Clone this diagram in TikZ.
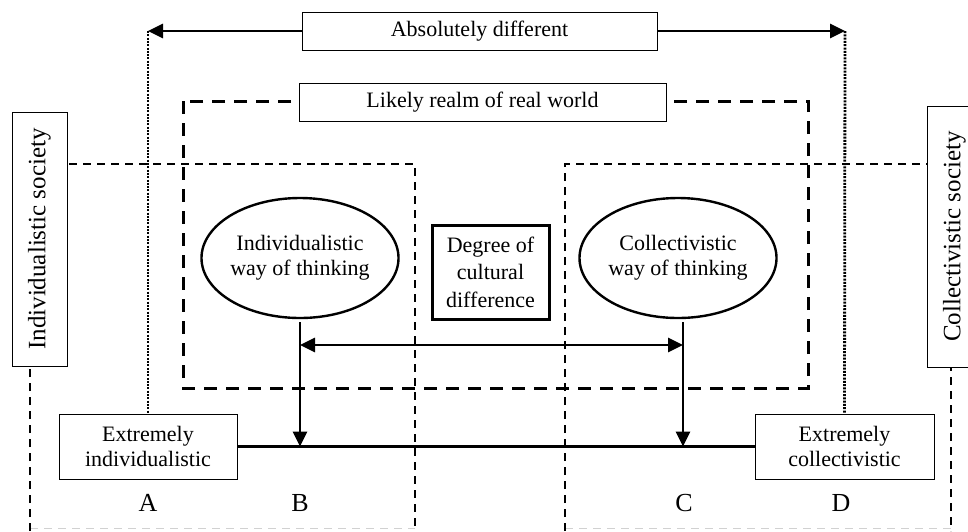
\documentclass[tikz,border=0pt]{standalone}
\usepackage{fontspec}
\setmainfont{Liberation Serif}
\newfontfamily\timesfam{Liberation Serif}
\usetikzlibrary{arrows.meta,shapes.geometric}
\begin{document}
\begin{tikzpicture}[x=1pt,y=-1pt,
  txt/.style={font=\timesfam\fontsize{22}{25}\selectfont, align=center, inner sep=0pt},
  thinbox/.style={txt, draw=black, line width=1pt, fill=white},
  sidebox/.style={thinbox, font=\timesfam\fontsize{25}{28}\selectfont, rotate=90},
  thickbox/.style={txt, draw=black, line width=3pt, fill=white, font=\timesfam\fontsize{22}{27.5}\selectfont},
  oval/.style={txt, ellipse, draw=black, line width=2.4pt, fill=white},
  letter/.style={inner sep=0pt, font=\timesfam\fontsize{26}{28}\selectfont},
  bigdash/.style={line width=3pt, dash pattern=on 13pt off 9pt},
  smalldash/.style={line width=1.5pt, dash pattern=on 8pt off 6pt},
  faintdash/.style={line width=1pt, draw=black!18, dash pattern=on 8pt off 6pt},
  dotline/.style={line width=2.8pt, dash pattern=on 2pt off 1.3pt},
  arr/.style={line width=2.8pt, -{Triangle[length=15pt,width=14pt]}},
  dblarr/.style={line width=2.8pt, {Triangle[length=15pt,width=14pt]}-{Triangle[length=15pt,width=14pt]}},
  mainline/.style={line width=2.8pt}
]
\useasboundingbox (0,0) rectangle (968,531);

% outlines of the two societies (thin dashes)
\coordinate (iTL) at (30,164);  \coordinate (iTR) at (415,164);
\coordinate (iBL) at (30,531);  \coordinate (iBR) at (415,531);
\coordinate (cTL) at (565,164); \coordinate (cTR) at (951,164);
\coordinate (cBL) at (565,531); \coordinate (cBR) at (951,531);
\draw[faintdash] (30,528) -- (415,528);
\draw[faintdash] (565,528) -- (951,528);
\draw[smalldash] (iBL) -- (iTL) -- (iTR) -- (iBR);
\draw[smalldash] (cBL) -- (cTL) -- (cTR) -- (cBR);

% realm of the real world (thick dashes)
\coordinate (rTL) at (183,101); \coordinate (rBR) at (808,388);
\draw[bigdash] (rTL) rectangle (rBR);

% labelled boxes
\node[thinbox, minimum width=355pt, minimum height=38pt] (abs) at (479.5,31) {Absolutely different};
\node[thinbox, minimum width=367pt, minimum height=38pt] (realm) at (482.5,102) {Likely realm of real world};
\node[sidebox, minimum width=254pt, minimum height=55pt] (indsoc) at (39.5,239) {Individualistic society};
\node[sidebox, minimum width=261pt, minimum height=55pt] (colsoc) at (954.5,236.5) {Collectivistic society};
\node[thinbox, minimum width=178pt, minimum height=65pt] (exI) at (148,446.5) {Extremely\\individualistic};
\node[thinbox, minimum width=179pt, minimum height=65pt] (exC) at (844.5,446.5) {Extremely\\collectivistic};
\node[thickbox, minimum width=117pt, minimum height=94pt] (deg) at (490.5,272) {Degree of\\cultural\\difference};
\node[oval, minimum width=194pt, minimum height=120pt] (ellI) at (300,258) {Individualistic\\way of thinking};
\node[oval, minimum width=193pt, minimum height=120pt] (ellC) at (678,258) {Collectivistic\\way of thinking};

% letters on the scale
\node[letter] (A) at (148,503) {A};
\node[letter] (B) at (300,503) {B};
\node[letter] (C) at (684,503) {C};
\node[letter] (D) at (841,503) {D};

% absolute difference arrows and dotted drops
\coordinate (absL) at (148,31);
\coordinate (absR) at (845,31);
\draw[arr] (abs.west) -- (absL);
\draw[arr] (abs.east) -- (absR);
\draw[dotline] (absL) -- (exI.north);
\draw[dotline] (absR) -- (exC.north);

% the scale line
\draw[mainline] (exI.east) -- (exC.west);

% positions B and C on the scale
\coordinate (pB) at (300,446.5);
\coordinate (pC) at (683,446.5);
\draw[arr] ([yshift=-3pt]ellI.south) -- (pB);
\draw[arr] ([yshift=-3pt]ellC.south -| pC) -- (pC);

% degree of cultural difference
\coordinate (dL) at (300,345);
\coordinate (dR) at (683,345);
\draw[dblarr] (dL) -- (dR);
\end{tikzpicture}
\end{document}
